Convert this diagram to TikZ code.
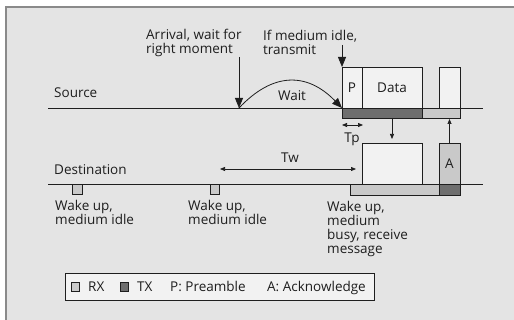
\documentclass[tikz,border=0pt]{standalone}
\usepackage{fontspec}
\setmainfont{Open Sans}
\usetikzlibrary{positioning,arrows.meta}
\definecolor{panel}{HTML}{E4E4E4}
\definecolor{frame}{HTML}{8A8A8A}
\definecolor{pale}{HTML}{F2F2F2}
\definecolor{rxgray}{HTML}{C9C9C9}
\definecolor{txgray}{HTML}{6E6E6E}
\definecolor{ink}{HTML}{1E1E1E}
\tikzset{
    box/.style ={
        shape=rectangle,
        draw=ink,
        line width=0.8pt,
        inner sep=0pt,
        outer sep=0pt,
        anchor=north west,
        text=ink,
        font=\fontsize{13.5}{14}\selectfont
    },
    pkt/.style ={box, fill=pale},
    rx/.style ={box, fill=rxgray},
    tx/.style ={box, fill=txgray},
    lbl/.style ={
        align=left,
        anchor=north west,
        inner sep=0pt,
        text=ink,
        font=\fontsize{13.5}{14}\selectfont
    },
    bigarr/.style ={-{Triangle[length=10pt,width=8pt]}, draw=ink, line width=0.8pt},
    smallarr/.style ={-{Triangle[length=5pt,width=4pt]}, draw=ink, line width=0.7pt},
    twoarr/.style ={{Triangle[length=5pt,width=4pt]}-{Triangle[length=5pt,width=4pt]}, draw=ink, line width=0.7pt}
}

\begin{document}
\begin{tikzpicture}[x=1pt,y=-1pt]
    \useasboundingbox (0,0) rectangle (514,320);
    \fill[white] (0,0) rectangle (514,320);
    \fill[panel] (6,7) rectangle (514,320);
    \draw[frame, line width=1.5pt] (6,320) -- (6,7) -- (514,7);

    % source
    \node[tx, minimum width=80, minimum height=10] (stx) at (342,108) {};
    \node[rx, minimum width=38, minimum height=10] (srx) at (422,108) {};
    \node[pkt, minimum width=20, minimum height=41] (pre) at (342,67) {P};
    \node[pkt, minimum width=60, minimum height=41] (data) at (362,67) {Data};
    \node[pkt, minimum width=21, minimum height=41] (ackslot) at (439,67) {};
    \coordinate (src0) at (48,108);
    \coordinate (src1) at (483,108);
    \draw[ink, line width=0.8pt] (src0) -- (src1);

    % destination
    \node[rx, minimum width=89, minimum height=11] (drx) at (350,184) {};
    \node[tx, minimum width=21, minimum height=11] (dtx) at (439,184) {};
    \node[pkt, minimum width=60, minimum height=41] (rdata) at (362,143) {};
    \node[rx, minimum width=21, minimum height=41] (ack) at (439,143) {A};
    \node[rx, minimum width=10, minimum height=10] (wake1) at (72,184) {};
    \node[rx, minimum width=9, minimum height=10] (wake2) at (210,184) {};
    \coordinate (dst0) at (48,184);
    \coordinate (dst1) at (483,184);
    \draw[ink, line width=0.8pt] (dst0) -- (dst1);

    % labels
    \node[lbl] (srclbl) at (54,88) {Source};
    \node[lbl] (dstlbl) at (54,164) {Destination};
    \node[lbl] (arrlbl) at (146,29) {Arrival, wait for\\right moment};
    \node[lbl] (idlelbl) at (263,30) {If medium idle,\\transmit};
    \node[lbl, anchor=center] (waitlbl) at (292,96) {Wait};
    \node[lbl, anchor=center] (tplbl) at (352,139) {Tp};
    \node[lbl, anchor=center] (twlbl) at (290,158) {Tw};
    \node[lbl] (w1lbl) at (55,200) {Wake up,\\medium idle};
    \node[lbl] (w2lbl) at (188,200) {Wake up,\\medium idle};
    \node[lbl] (w3lbl) at (327,201) {Wake up,\\medium\\busy, receive\\message};

    % arrows
    \coordinate (arrtop) at (239,57);
    \coordinate (arrival) at (239,108);
    \draw[bigarr] (arrtop) -- (arrival);
    \draw[bigarr] (arrival) .. controls (273,72) and (307,72) .. (pre.south west);
    \coordinate (idletop) at (342,45);
    \draw[bigarr] (idletop) -- (pre.north west);
    \draw[smallarr, shorten >=4pt] (stx.south -| data.south) -- (rdata.north);
    \draw[smallarr, shorten >=1pt] (ack.north) -- (srx.south -| ack.north);
    \coordinate (tpl) at (342,125);
    \coordinate (tpr) at (363,125);
    \draw[twoarr] (tpl) -- (tpr);
    \coordinate (twl) at (220,169);
    \coordinate (twr) at (356,169);
    \draw[twoarr] (twl) -- (twr);

    % legend
    \node[pkt, minimum width=309, minimum height=27] (legend) at (65,273) {};
    \node[rx, minimum width=8, minimum height=9] (rxkey) at (71,282) {};
    \node[lbl, anchor=base west] (rxtxt) at (88,291) {RX};
    \node[tx, minimum width=8, minimum height=9] (txkey) at (120,282) {};
    \node[lbl, anchor=base west] (txtxt) at (137,291) {TX};
    \node[lbl, anchor=base west] (pretxt) at (170,291) {P: Preamble};
    \node[lbl, anchor=base west] (acktxt) at (267,291) {A: Acknowledge};
\end{tikzpicture}
\end{document}
